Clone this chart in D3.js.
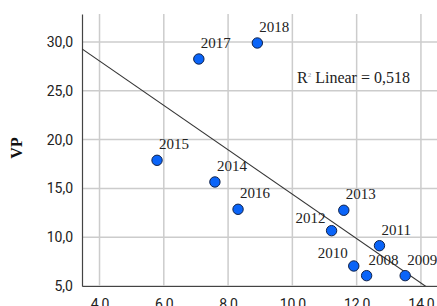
<!DOCTYPE html>
<html lang="en">
<head>
    <meta charset="UTF-8">
    <title>VP scatter</title>
    <script src="https://d3js.org/d3.v7.min.js"></script>
    <style>
        body { margin: 0; background: #fff; }
    </style>
</head>
<body>
    <svg id="chart" width="437" height="306"></svg>

    <script>
        // Values
        const years = ["2017", "2018", "2015", "2014", "2016", "2013", "2012", "2011", "2010", "2008", "2009"];
        const xValues = [7.09, 8.91, 5.79, 7.59, 8.31, 11.6, 11.22, 12.71, 11.91, 12.31, 13.51];
        const vpValues = [28.26, 29.9, 17.88, 15.66, 12.86, 12.76, 10.67, 9.13, 7.05, 6.06, 6.06];
        const labelSide = ["right", "right", "right", "right", "right", "right", "left", "right", "left", "right", "right"];

        const xTicks = [4, 6, 8, 10, 12, 14];
        const yTicks = [5, 10, 15, 20, 25, 30];
        const fitLabel = "Linear = 0,518";

        const svg = d3.select('#chart');
        const plotLeft = 82, plotRight = 437, plotTop = 14, plotBottom = 286;

        const x = d3.scaleLinear().domain([3.455, 14.5]).range([plotLeft, plotRight]);
        const y = d3.scaleLinear().domain([5, 32.87]).range([plotBottom, plotTop]);
        const fmt = d => d3.format('.1f')(d).replace('.', ',');

        // grid lines
        svg.append('g')
            .selectAll('line')
            .data(xTicks)
            .enter().append('line')
            .attr('x1', d => x(d)).attr('x2', d => x(d))
            .attr('y1', plotTop).attr('y2', plotBottom)
            .attr('stroke', '#cccccc')
            .attr('stroke-width', 1.5);

        svg.append('g')
            .selectAll('line')
            .data(yTicks)
            .enter().append('line')
            .attr('x1', plotLeft).attr('x2', plotRight)
            .attr('y1', d => y(d)).attr('y2', d => y(d))
            .attr('stroke', '#cccccc')
            .attr('stroke-width', 1.5);

        // axes
        const yAxis = svg.append('g')
            .attr('transform', `translate(${plotLeft},0)`)
            .call(d3.axisLeft(y).tickValues(yTicks).tickFormat(fmt).tickSize(0).tickPadding(9));
        const xAxis = svg.append('g')
            .attr('transform', `translate(0,${plotBottom})`)
            .call(d3.axisBottom(x).tickValues(xTicks).tickFormat(fmt).tickSize(0).tickPadding(13));

        [xAxis, yAxis].forEach(a => {
            a.select('.domain').attr('stroke', '#444').attr('stroke-width', 1.2);
            a.selectAll('text')
                .attr('font-family', 'Roboto, sans-serif')
                .attr('font-size', 14)
                .attr('fill', '#222');
        });

        // least squares fit line
        const mx = d3.mean(xValues), my = d3.mean(vpValues);
        const sxy = d3.sum(xValues, (v, i) => (v - mx) * (vpValues[i] - my));
        const sxx = d3.sum(xValues, v => (v - mx) * (v - mx));
        const slope = sxy / sxx;
        const intercept = my - slope * mx;

        svg.append('clipPath').attr('id', 'plot-clip')
            .append('rect')
            .attr('x', plotLeft).attr('y', plotTop)
            .attr('width', plotRight - plotLeft).attr('height', plotBottom - plotTop);

        const xd = x.domain();
        svg.append('line')
            .attr('clip-path', 'url(#plot-clip)')
            .attr('x1', x(xd[0])).attr('y1', y(intercept + slope * xd[0]))
            .attr('x2', x(xd[1])).attr('y2', y(intercept + slope * xd[1]))
            .attr('stroke', '#333')
            .attr('stroke-width', 1.1);

        // points
        svg.append('g')
            .selectAll('circle')
            .data(years)
            .enter().append('circle')
            .attr('cx', (d, i) => x(xValues[i]))
            .attr('cy', (d, i) => y(vpValues[i]))
            .attr('r', 5.2)
            .attr('fill', '#0a64f8')
            .attr('stroke', '#10224a')
            .attr('stroke-width', 1);

        // point labels
        svg.append('g')
            .selectAll('text')
            .data(years)
            .enter().append('text')
            .attr('x', (d, i) => x(xValues[i]) + (labelSide[i] === 'left' ? -6 : 2))
            .attr('y', (d, i) => y(vpValues[i]) + (labelSide[i] === 'left' ? -8 : -11))
            .attr('text-anchor', (d, i) => labelSide[i] === 'left' ? 'end' : 'start')
            .attr('font-family', '"Liberation Serif", "Times New Roman", serif')
            .attr('font-size', 15)
            .attr('fill', '#222')
            .text(d => d);

        // R squared annotation
        const rText = svg.append('text')
            .attr('x', 297)
            .attr('y', 83)
            .attr('font-family', '"Liberation Serif", "Times New Roman", serif')
            .attr('font-size', 16)
            .attr('fill', '#222');
        rText.append('tspan').text('R');
        rText.append('tspan').attr('font-size', 7).attr('dy', -6).attr('fill', '#999').text('2');
        rText.append('tspan').attr('dy', 6).text(' ' + fitLabel);

        // y axis title
        svg.append('text')
            .attr('transform', 'translate(22,148) rotate(-90)')
            .attr('text-anchor', 'middle')
            .attr('font-family', '"Liberation Serif", "Times New Roman", serif')
            .attr('font-weight', 'bold')
            .attr('font-size', 16)
            .attr('fill', '#111')
            .text('VP');
    </script>
</body>
</html>
